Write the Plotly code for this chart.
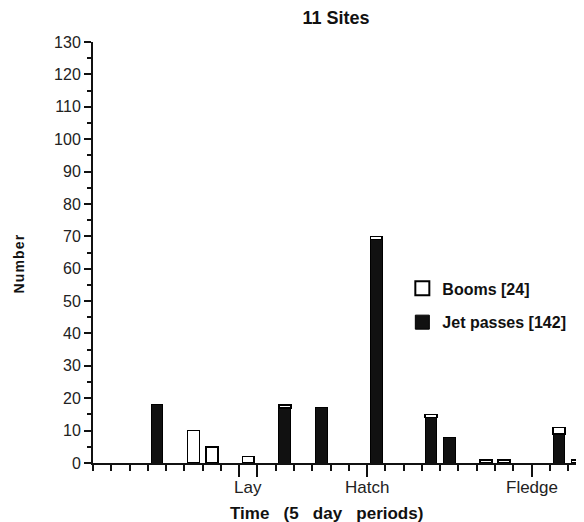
import plotly.graph_objects as go

# 5-day periods (bin index), values per period
periods = list(range(27))
jet_passes = [0, 0, 0, 18, 0, 0, 0, 0, 0, 0, 17, 0, 17, 0, 0, 69, 0, 0, 14, 8, 0, 0, 0, 0, 0, 9, 0]
booms      = [0, 0, 0, 0, 0, 10, 5, 0, 2, 0, 1, 0, 0, 0, 0, 1, 0, 0, 1, 0, 0, 1, 1, 0, 0, 2, 1]

stage_ticks = [8, 9, 15, 24]
stage_labels = ["Lay", "Hatch", "Fledge"]
stage_label_pos = [8.5, 15, 24]
y_ticks = list(range(0, 131, 10))
legend_names = ["Booms [24]", "Jet passes [142]"]

centers = [p + 0.5 for p in periods]
jet_plot = [v if v else None for v in jet_passes]
boom_plot = [v if v else None for v in booms]
FONT = "Liberation Sans, Arial, sans-serif"

fig = go.Figure()
fig.add_trace(go.Bar(
    x=centers, y=jet_plot, width=0.65, name=legend_names[1],
    marker=dict(color="#111111", line=dict(color="#000000", width=1)),
    showlegend=False,
))
fig.add_trace(go.Bar(
    x=centers, y=boom_plot, width=0.65, name=legend_names[0],
    marker=dict(color="#ffffff", line=dict(color="#000000", width=1.6)),
    showlegend=False,
))
# legend keys (larger square swatches)
fig.add_trace(go.Scatter(
    x=[None], y=[None], mode="markers", name=legend_names[0], legendgroup="b",
    marker=dict(symbol="square", size=14, color="#ffffff", line=dict(color="#000", width=2)),
))
fig.add_trace(go.Scatter(
    x=[None], y=[None], mode="markers", name=legend_names[1], legendgroup="j",
    marker=dict(symbol="square", size=14, color="#111111", line=dict(color="#000", width=1)),
))

fig.update_layout(
    width=576, height=514,
    barmode="stack",
    paper_bgcolor="white", plot_bgcolor="white",
    margin=dict(l=85, r=0, t=34, b=59, autoexpand=False),
    title=dict(text="11 Sites", x=0.495, xref="paper", xanchor="center",
               y=1 - 10 / 514, yanchor="middle",
               font=dict(family=FONT, size=18, color="#111", weight="bold")),
    font=dict(family=FONT, color="#111"),
    legend=dict(x=0.63, y=0.455, xanchor="left", yanchor="top",
                traceorder="grouped", tracegroupgap=10,
                bgcolor="rgba(0,0,0,0)",
                font=dict(family=FONT, size=16, color="#111", weight="bold")),
    showlegend=True,
)

fig.update_xaxes(
    range=[0, 26.87], showgrid=False, zeroline=False, automargin=False,
    showline=True, linecolor="#111", linewidth=2,
    tickmode="array", tickvals=stage_ticks, ticktext=["", "", "", ""],
    ticks="outside", ticklen=12, tickwidth=2, tickcolor="#111",
    minor=dict(dtick=1, tick0=0, ticks="outside", ticklen=6, tickwidth=2, tickcolor="#111"),
)
fig.update_yaxes(
    range=[0, 130], showgrid=False, zeroline=False, automargin=False,
    showline=True, linecolor="#111", linewidth=2,
    tickmode="array", tickvals=y_ticks,
    ticks="outside", ticklen=7, tickwidth=2, tickcolor="#111",
    tickfont=dict(family=FONT, size=16, color="#222"),
    minor=dict(dtick=5, tick0=0, ticks="outside", ticklen=4, tickwidth=1.5, tickcolor="#111"),
)

for pos, lab in zip(stage_label_pos, stage_labels):
    fig.add_annotation(x=pos, y=0, xref="x", yref="paper", yshift=-24,
                       text=lab, showarrow=False, yanchor="middle",
                       font=dict(family=FONT, size=17, color="#222"))

fig.add_annotation(x=0.476, y=0, xref="paper", yref="paper", yshift=-50,
                   text="Time\u00a0\u00a0\u00a0(5\u00a0\u00a0\u00a0day\u00a0\u00a0\u00a0periods)",
                   showarrow=False, yanchor="middle",
                   font=dict(family=FONT, size=17, color="#111", weight="bold"))

fig.add_annotation(x=0, y=0.5, xref="paper", yref="paper", xshift=-75, yshift=-12,
                   text="N\u200au\u200am\u200ab\u200ae\u200ar", textangle=-90,
                   showarrow=False, xanchor="center", yanchor="middle",
                   font=dict(family=FONT, size=14, color="#111", weight="bold"))

fig.write_html("out.html")
